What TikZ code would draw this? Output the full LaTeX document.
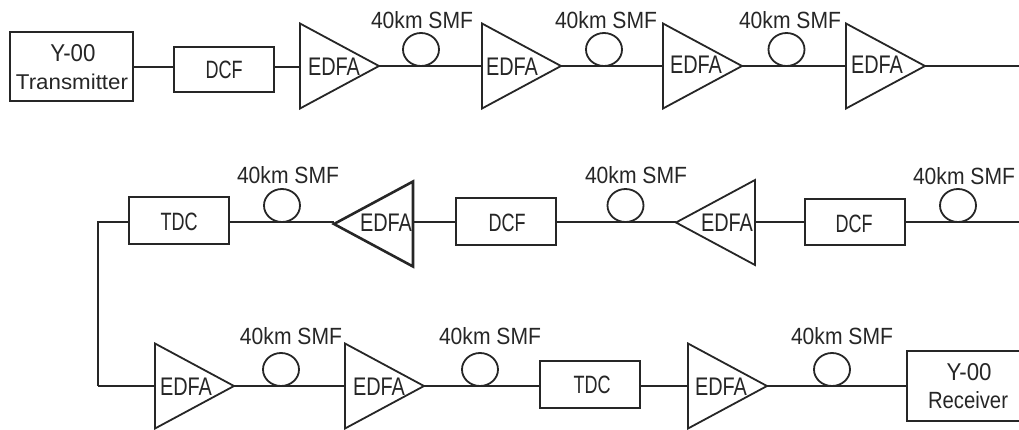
\documentclass[tikz,border=0pt]{standalone}
\usepackage{fontspec}
\usepackage{graphicx}
\setmainfont{Liberation Sans}
\usetikzlibrary{shapes.geometric}
\tikzset{
  x=1pt,y=-1pt,
  wire/.style={line width=1.8pt,draw=black!85},
  boxn/.style={rectangle,draw=black!85,line width=1.8pt,inner sep=0pt,outer sep=0pt,fill=white},
  amp/.style={isosceles triangle,isosceles triangle stretches,shape border rotate=#1,draw=black!85,line width=1.8pt,
    minimum width=85pt,minimum height=79pt,inner sep=0pt,outer sep=0pt,fill=white},
  amp/.default=0,
  loopn/.style={ellipse,draw=black!85,line width=1.8pt,minimum width=36pt,minimum height=33pt,inner sep=0pt,outer sep=0pt},
  txt/.style={inner sep=0pt,outer sep=0pt,text=black!85}
}
\newcommand{\lab}[6]{\node[txt] (#1) at (#2,#3) {\resizebox{#4pt}{#5pt}{#6}};}
\newcommand{\amplab}[3]{\lab{#1}{#2}{#3}{52}{17.5}{EDFA}}
\newcommand{\smf}[3]{\lab{#1}{#2}{#3}{102}{17}{40km SMF}}
\begin{document}
\begin{tikzpicture}
\useasboundingbox (0,0) rectangle (1019,429);
% coordinates
\coordinate (e1) at (1019,66);
\coordinate (e2) at (1019,222);
\coordinate (c1) at (98,222);
\coordinate (c2) at (98,386);
% row 1
\node[boxn,minimum width=123pt,minimum height=69pt] (tx) at (71.5,66.5) {};
\node[boxn,minimum width=100pt,minimum height=45pt] (d1) at (224,69.5) {};
\node[amp,anchor=lower side] (a1) at (300,66) {};
\node[amp,anchor=lower side] (a2) at (482,66) {};
\node[amp,anchor=lower side] (a3) at (663,66) {};
\node[amp,anchor=lower side] (a4) at (846,66) {};
\draw[wire] (tx.east |- 0,67) -- (d1.west |- 0,67);
\draw[wire] (d1.east |- 0,67) -- (a1.lower side |- 0,67);
\draw[wire] (a1.apex) -- (a2.lower side);
\draw[wire] (a2.apex) -- (a3.lower side);
\draw[wire] (a3.apex) -- (a4.lower side);
\draw[wire] (a4.apex) -- (e1);
\node[loopn] (l1) at (421,49.5) {};
\node[loopn] (l2) at (604,49.5) {};
\node[loopn] (l3) at (786.5,49.5) {};
% row 2
\node[boxn,minimum width=100pt,minimum height=47pt] (t1) at (179,220.5) {};
\node[amp=180,anchor=lower side,line width=2.6pt] (a5) at (413,224) {};
\node[boxn,minimum width=100pt,minimum height=47pt] (d2) at (506,221.5) {};
\node[amp=180,anchor=lower side] (a6) at (755,222.5) {};
\node[boxn,minimum width=100pt,minimum height=46pt] (d3) at (855,222) {};
\draw[wire] (e2) -- (d3.east |- e2);
\draw[wire] (d3.west |- e2) -- (a6.lower side |- e2);
\draw[wire] (a6.apex |- e2) -- (d2.east |- e2);
\draw[wire] (d2.west |- e2) -- (a5.lower side |- e2);
\draw[wire] (a5.apex |- e2) -- (t1.east |- e2);
\draw[wire] (t1.west |- e2) -- (c1) -- (c2);
\node[loopn] (l4) at (282,205.5) {};
\node[loopn] (l5) at (625.5,205.5) {};
\node[loopn] (l6) at (958,205.5) {};
% row 3
\node[amp,anchor=lower side] (a7) at (155,386) {};
\node[amp,anchor=lower side] (a8) at (345,386) {};
\node[boxn,minimum width=100pt,minimum height=47pt] (t2) at (590,384.5) {};
\node[amp,anchor=lower side] (a9) at (688,386) {};
\coordinate (rxnw) at (907,351);
\coordinate (rxne) at (1019,351);
\coordinate (rxsw) at (907,421);
\coordinate (rxse) at (1019,421);
\draw[wire] (rxne) -- (rxnw) -- (rxsw) -- (rxse);
\draw[wire] (c2) -- (a7.lower side);
\draw[wire] (a7.apex) -- (a8.lower side);
\draw[wire] (a8.apex) -- (t2.west |- a8.apex);
\draw[wire] (t2.east |- a8.apex) -- (a9.lower side);
\draw[wire] (a9.apex) -- (rxnw |- a9.apex);
\node[loopn] (l7) at (281,369.5) {};
\node[loopn] (l8) at (480,369.5) {};
\node[loopn] (l9) at (832,369.5) {};
% texts
\lab{ty}{73}{53}{45}{17}{Y-00}
\lab{tt}{72}{82}{112}{15.5}{Transmitter}
\lab{td1}{224}{70}{37}{17.5}{DCF}
\amplab{e1t}{334}{67}
\amplab{e2t}{512}{67}
\amplab{e3t}{696}{65}
\amplab{e4t}{877}{65}
\smf{s1}{422}{20}
\smf{s2}{606}{20}
\smf{s3}{790}{20}
\smf{s4}{288}{175}
\smf{s5}{636}{175}
\smf{s6}{964}{176}
\lab{tdc1}{179}{222}{37}{17.5}{TDC}
\amplab{e5t}{386}{223}
\lab{td2}{507}{223}{37}{17.5}{DCF}
\amplab{e6t}{727}{223}
\lab{td3}{854}{224}{37}{17.5}{DCF}
\smf{s7}{291}{336}
\smf{s8}{490}{336}
\smf{s9}{842}{336}
\amplab{e7t}{186}{387}
\amplab{e8t}{379}{387}
\lab{tdc2}{592}{385}{37}{17.5}{TDC}
\amplab{e9t}{721}{387}
\lab{ry}{969}{372}{45}{17}{Y-00}
\lab{rr}{968}{400}{80}{17}{Receiver}
\end{tikzpicture}
\end{document}
